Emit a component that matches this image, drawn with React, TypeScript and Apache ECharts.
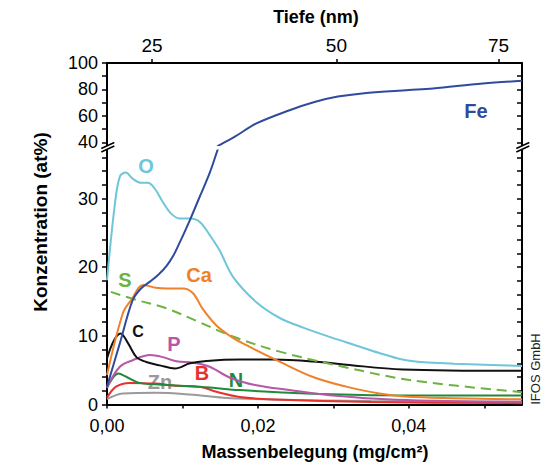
import React, { useEffect, useRef } from "react";
import * as echarts from "echarts";

// ---- data (x: Massenbelegung mg/cm², y: at%) ----
const fe: number[][] = [
  [0, 2.6], [0.0017, 8.9], [0.0034, 15.2], [0.0045, 16.9], [0.0057, 17.9], [0.0068, 18.9],
  [0.0079, 20.2], [0.0088, 21.7], [0.0096, 23.5], [0.011, 26.9], [0.0123, 30.3], [0.0136, 33.7],
  [0.0146, 36.9], [0.0155, 39.8], [0.017, 44.5], [0.0198, 54.3], [0.0242, 64.3], [0.0275, 70.5],
  [0.0306, 74.6], [0.0344, 77.4], [0.04, 79.5], [0.0432, 80.7], [0.0498, 84.5], [0.055, 86.5],
];
const o: number[][] = [
  [0, 18.1], [0.001, 28.8], [0.0017, 33.2], [0.0025, 33.8], [0.0034, 32.9], [0.0045, 32.3],
  [0.0054, 32.3], [0.0063, 31.5], [0.0074, 29.5], [0.0085, 27.8], [0.0096, 27.1], [0.011, 27.1],
  [0.0123, 26.6], [0.0136, 24.7], [0.0149, 22.5], [0.0167, 18.6], [0.0198, 14.9], [0.0229, 12.6],
  [0.026, 11.2], [0.0295, 9.85], [0.033, 8.6], [0.0361, 7.5], [0.039, 6.6], [0.042, 6.15],
  [0.046, 5.95], [0.05, 5.8], [0.055, 5.6],
];
const ca: number[][] = [
  [0, 4.3], [0.0021, 13.3], [0.0032, 15.2], [0.0048, 17.4], [0.0065, 17.0], [0.0079, 16.9],
  [0.0101, 16.9], [0.0114, 16.2], [0.0127, 13.9], [0.0145, 11.5], [0.0167, 9.7], [0.0189, 8.4],
  [0.0224, 6.5], [0.0273, 4.0], [0.0317, 2.6], [0.0361, 1.6], [0.0405, 1.1], [0.055, 0.75],
];
const s: number[][] = [
  [0.0005, 16.4], [0.004, 15.2], [0.0079, 14.0], [0.012, 12.1], [0.0167, 9.9], [0.0229, 7.7],
  [0.0317, 5.4], [0.0405, 3.5], [0.055, 1.8],
];
const c: number[][] = [
  [0, 6.7], [0.0009, 9.3], [0.0018, 10.35], [0.0028, 8.9], [0.0039, 6.9], [0.0052, 6.2],
  [0.007, 5.7], [0.009, 5.25], [0.011, 6.0], [0.0132, 6.35], [0.0176, 6.55], [0.022, 6.55],
  [0.0282, 6.2], [0.0317, 5.8], [0.0392, 5.1], [0.055, 4.9],
];
const p: number[][] = [
  [0, 2.5], [0.0017, 5.5], [0.0034, 6.45], [0.0057, 7.2], [0.0074, 6.9], [0.0092, 6.3],
  [0.0114, 6.07], [0.0136, 5.5], [0.0163, 3.9], [0.0198, 2.8], [0.0242, 2.1], [0.0295, 1.35],
  [0.0383, 0.7], [0.055, 0.4],
];
const n: number[][] = [
  [0, 2.4], [0.0015, 4.5], [0.0026, 4.0], [0.0043, 3.15], [0.0087, 2.8], [0.0132, 2.5],
  [0.0176, 2.1], [0.0242, 1.7], [0.036, 1.35], [0.055, 1.3],
];
const b: number[][] = [
  [0, 1.0], [0.0012, 2.6], [0.003, 3.15], [0.0065, 3.05], [0.0087, 2.75], [0.0123, 2.6],
  [0.0145, 1.85], [0.0176, 1.1], [0.022, 0.73], [0.035, 0.35], [0.055, 0.2],
];
const zn: number[][] = [
  [0, 0.77], [0.0021, 1.6], [0.0065, 1.7], [0.011, 1.45], [0.0154, 1.0], [0.022, 0.73],
  [0.035, 0.5], [0.055, 0.4],
];

// ---- ticks ----
const massTicks = [0, 0.01, 0.02, 0.03, 0.04, 0.05];
const massLabels = [0, 0.02, 0.04];
const depthLabels = [25, 50, 75];
const depthMass = [0.00596, 0.0304, 0.0519];
const upperTicks = [40, 50, 60, 70, 80, 90, 100];
const upperLabels = [40, 60, 80, 100];
const lowerTicks = [0, 2, 4, 6, 8, 10, 12, 14, 16, 18, 20, 22, 24, 26, 28, 30, 32, 34, 36];
const lowerLabels = [0, 10, 20, 30];

const tickFont = "'Liberation Sans', Arial, sans-serif";
const boldFont = "'Liberation Sans', Arial, sans-serif";

export default function App() {
  const ref = useRef<HTMLDivElement>(null);
  useEffect(() => {
    document.body.style.margin = "0";
    if (!ref.current) return;
    const chart = echarts.init(ref.current, undefined, { renderer: "svg" });
    const axisLine = { show: true, onZero: false, lineStyle: { color: "#000", width: 2 } };
    const tickStyle = { color: "#000", width: 1.5 };
    const lbl = { color: "#000", fontSize: 18, fontFamily: tickFont };
    const feLower = fe.filter((d) => d[1] <= 40);
    const feUpper = fe.filter((d) => d[1] >= 36);
    const mk = (name: string, data: number[][], color: string, xi: number, yi: number, dashed = false) => ({
      type: "line",
      name,
      data,
      xAxisIndex: xi,
      yAxisIndex: yi,
      smooth: 0.35,
      showSymbol: false,
      symbol: "none",
      lineStyle: { color, width: 2, type: dashed ? [10, 6] : "solid" },
      silent: true,
    });
    const txt = (t: string, x: number, y: number, fill: string, size = 20) => ({
      type: "text",
      x,
      y,
      style: {
        text: t, fill, fontSize: size, fontWeight: "bold", fontFamily: boldFont,
        align: "center", verticalAlign: "middle", textAlign: "center", textVerticalAlign: "middle",
      },
    });
    const brk = (x: number) => [
      { type: "line", shape: { x1: x - 6, y1: 148.5, x2: x + 7, y2: 142.5 }, style: { stroke: "#000", lineWidth: 1.5 } },
      { type: "line", shape: { x1: x - 6, y1: 152, x2: x + 7, y2: 146 }, style: { stroke: "#000", lineWidth: 1.5 } },
    ];
    chart.setOption({
      animation: false,
      grid: [
        { left: 107, right: 24, top: 63, height: 82 },
        { left: 107, right: 24, top: 150.5, height: 254 },
      ],
      xAxis: [
        {
          type: "value", gridIndex: 0, position: "top", min: 0, max: 0.055,
          axisLine, splitLine: { show: false },
          axisTick: { show: true, customValues: depthMass, length: 4, lineStyle: tickStyle },
          axisLabel: {
            ...lbl, fontSize: 19, margin: 8, customValues: depthMass,
            formatter: (v: number) => {
              const i = depthMass.findIndex((m) => Math.abs(m - v) < 1e-7);
              return i >= 0 ? String(depthLabels[i]) : "";
            },
          },
        },
        {
          type: "value", gridIndex: 1, position: "bottom", min: 0, max: 0.055,
          axisLine, splitLine: { show: false },
          axisTick: { show: true, customValues: massTicks, length: 4, lineStyle: tickStyle },
          axisLabel: {
            ...lbl, margin: 12, customValues: massLabels,
            formatter: (v: number) => v.toFixed(2).replace(".", ","),
          },
        },
      ],
      yAxis: [
        {
          type: "value", gridIndex: 0, position: "left", min: 38, max: 100,
          axisLine, splitLine: { show: false },
          axisTick: { show: true, customValues: upperTicks, length: 5, lineStyle: tickStyle },
          axisLabel: { ...lbl, margin: 9, customValues: upperLabels },
        },
        {
          type: "value", gridIndex: 0, position: "right", min: 38, max: 100,
          axisLine, splitLine: { show: false },
          axisTick: { show: true, inside: true, customValues: upperTicks, length: 5, lineStyle: tickStyle },
          axisLabel: { show: false },
        },
        {
          type: "value", gridIndex: 1, position: "left", min: 0, max: 37,
          axisLine, splitLine: { show: false },
          axisTick: { show: true, customValues: lowerTicks, length: 5, lineStyle: tickStyle },
          axisLabel: { ...lbl, margin: 9, customValues: lowerLabels },
        },
        {
          type: "value", gridIndex: 1, position: "right", min: 0, max: 37,
          axisLine, splitLine: { show: false },
          axisTick: { show: true, inside: true, customValues: lowerTicks, length: 5, lineStyle: tickStyle },
          axisLabel: { show: false },
        },
      ],
      series: [
        mk("Zn", zn, "#9a9a9a", 1, 2),
        mk("B", b, "#e8312f", 1, 2),
        mk("N", n, "#1f8a3b", 1, 2),
        mk("P", p, "#b657a8", 1, 2),
        mk("C", c, "#111111", 1, 2),
        mk("S", s, "#6cb33f", 1, 2, true),
        mk("Ca", ca, "#f0812a", 1, 2),
        mk("O", o, "#6ec6d8", 1, 2),
        mk("Fe", feLower, "#2f4b9d", 1, 2),
        mk("Fe ", feUpper, "#2f4b9d", 0, 0),
      ],
      graphic: [
        ...brk(107.3),
        ...brk(522.3),
        txt("Fe", 476, 111, "#2f4b9d"),
        txt("O", 146, 166, "#6ec6d8"),
        txt("S", 125, 280, "#6cb33f"),
        txt("Ca", 199, 275, "#f0812a"),
        txt("C", 138, 331, "#111111", 16),
        txt("P", 174, 344, "#b657a8"),
        txt("B", 202, 373, "#e8312f"),
        txt("N", 236, 380, "#1f8a3b"),
        txt("Zn", 160, 382, "#9a9a9a"),
        txt("Tiefe (nm)", 316, 17, "#000", 18),
        txt("Massenbelegung (mg/cm²)", 315, 452, "#000", 18),
        {
          ...txt("Konzentration (at%)", 40, 222, "#000", 19),
          rotation: Math.PI / 2,
        },
        {
          type: "text",
          x: 535,
          y: 369,
          rotation: Math.PI / 2,
          style: {
            text: "IFOS GmbH", fill: "#222", fontSize: 13, fontFamily: boldFont,
            align: "center", verticalAlign: "middle", textAlign: "center", textVerticalAlign: "middle",
          },
        },
      ],
    });
    return () => chart.dispose();
  }, []);
  return <div ref={ref} style={{ width: 546, height: 469 }} />;
}
